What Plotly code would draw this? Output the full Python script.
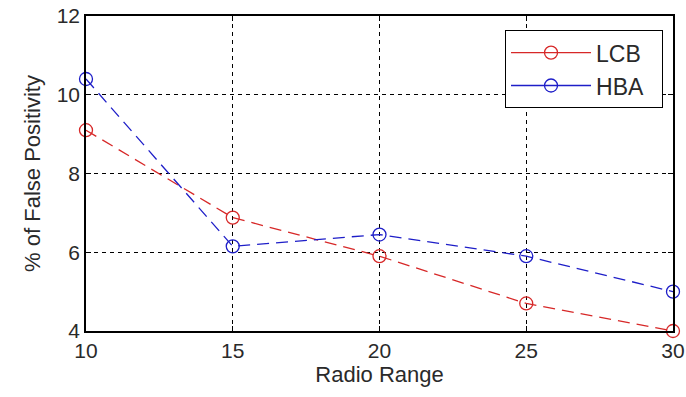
import plotly.graph_objects as go

radio_range = [10, 15, 20, 25, 30]
lcb = [9.1, 6.88, 5.9, 4.7, 4.0]
hba = [10.4, 6.15, 6.45, 5.9, 5.0]
x_ticks = [10, 15, 20, 25, 30]
y_ticks = [4, 6, 8, 10, 12]

RED = "rgb(215,40,40)"
BLUE = "rgb(30,30,200)"
TXT = "#2a2a2a"
FAM = "Liberation Sans"

fig = go.Figure()
for name, vals, col in [("LCB", lcb, RED), ("HBA", hba, BLUE)]:
    fig.add_trace(go.Scatter(
        x=radio_range, y=vals, mode="lines+markers", name=name, showlegend=False,
        line=dict(color=col, width=1.3, dash="12px,7px"),
        marker=dict(symbol="circle-open", size=13, color=col, line=dict(width=1.3, color=col)),
        cliponaxis=False,
    ))
    fig.add_trace(go.Scatter(
        x=[None], y=[None], mode="lines+markers", name=name + "\u00a0\u00a0",
        line=dict(color=col, width=1.3),
        marker=dict(symbol="circle-open", size=13, color=col, line=dict(width=1.3, color=col)),
    ))

axis_common = dict(
    showgrid=True, gridcolor="black", gridwidth=1, griddash="4px,4px",
    showline=True, linecolor="black", linewidth=1.5, mirror="ticks",
    ticks="inside", ticklen=5, tickcolor="black", zeroline=False,
    automargin=False,
    tickfont=dict(size=21, color=TXT, family=FAM),
)
fig.update_xaxes(range=[10, 30], tickvals=x_ticks,
                 title=dict(text="Radio Range", font=dict(size=22, color=TXT, family=FAM), standoff=2),
                 **axis_common)
fig.update_yaxes(range=[4, 12], tickvals=y_ticks,
                 title=dict(text="% of False Positivity", font=dict(size=22, color=TXT, family=FAM), standoff=10),
                 **axis_common)

fig.update_layout(
    width=686, height=397,
    margin=dict(l=86, r=13, t=16, b=66),
    paper_bgcolor="white", plot_bgcolor="white",
    font=dict(family=FAM, color=TXT),
    legend=dict(x=0.983, y=0.955, xanchor="right", yanchor="top",
                bordercolor="black", borderwidth=1, bgcolor="white",
                font=dict(size=23, color=TXT, family=FAM),
                itemwidth=80, tracegroupgap=0),
)

fig.write_html("out.html")
